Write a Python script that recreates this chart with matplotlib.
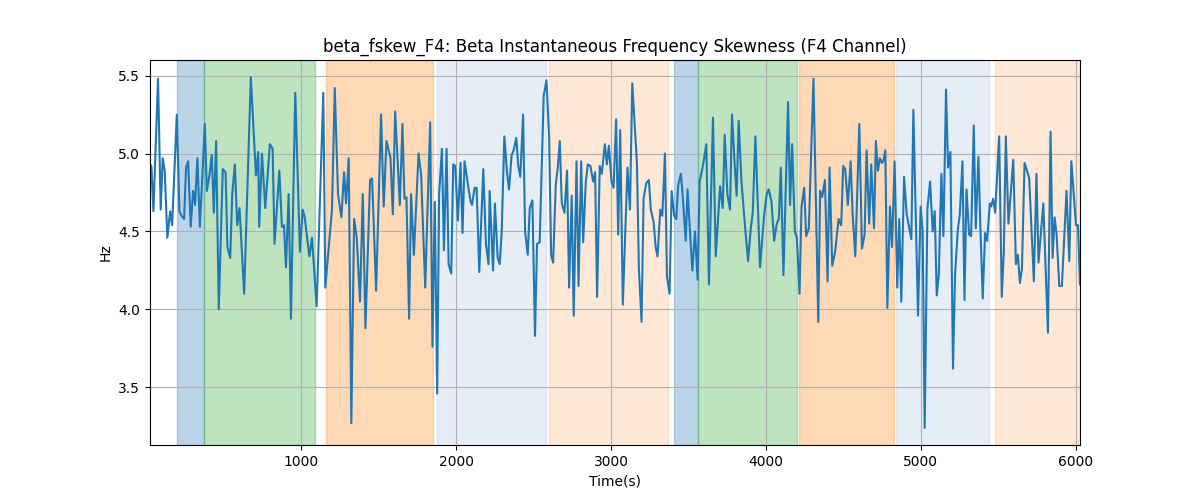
import numpy as np
import matplotlib
matplotlib.use("Agg")
import matplotlib.pyplot as plt

# time stamps (s) and skewness values
time_s = [
    23, 32, 45, 75, 92, 105, 118, 135, 153, 166, 196, 213, 226, 243, 256, 269, 286, 301, 314, 329,
    345, 377, 390, 407, 422, 435, 450, 467, 493, 511, 523, 541, 554, 571, 586, 601, 631, 674, 707, 722,
    728, 746, 767, 797, 815, 827, 858, 875, 888, 901, 918, 933, 961, 991, 1009, 1022, 1052, 1069, 1099, 1142,
    1155, 1198, 1216, 1237, 1259, 1276, 1289, 1306, 1323, 1341, 1358, 1379, 1397, 1414, 1444, 1457,
    1483, 1515, 1532, 1550, 1576, 1591, 1606, 1636, 1653, 1666, 1679, 1696, 1709, 1727, 1757, 1774, 1800, 1832,
    1847, 1862, 1877, 1890, 1908, 1921, 1938, 1951, 1968, 1981, 1994, 2011, 2028, 2041, 2054, 2076, 2093, 2102,
    2119, 2132, 2149, 2175, 2192, 2209,
    2216, 2238, 2250, 2268, 2281, 2294, 2311, 2328, 2341, 2358, 2371, 2388, 2401, 2414, 2432, 2445, 2462, 2475,
    2492, 2509, 2522, 2539, 2565, 2583, 2600, 2613, 2626, 2643, 2656, 2669, 2682, 2699, 2716, 2729, 2746, 2759,
    2777, 2790, 2807, 2820, 2837, 2850, 2867, 2884, 2897, 2910, 2927, 2940,
    2960, 2973, 2986, 3003, 3016, 3033, 3046, 3059, 3076, 3106, 3122, 3137, 3167, 3180, 3197, 3210, 3227, 3244,
    3257, 3275, 3288, 3300, 3318, 3331, 3348, 3361, 3378, 3391, 3408, 3421, 3434, 3451, 3464, 3482, 3494, 3512,
    3525, 3542, 3559, 3572, 3585, 3598, 3615, 3632, 3658, 3676,
    3704, 3721, 3734, 3751, 3768, 3781, 3798, 3811, 3824, 3842, 3867, 3885, 3902, 3915, 3932, 3962, 3988, 4005,
    4018, 4036, 4053, 4070, 4083, 4096, 4113, 4143, 4156, 4169, 4187, 4200, 4217, 4230, 4247, 4260, 4277, 4307,
    4338, 4350, 4363, 4381, 4398, 4411, 4428,
    4447, 4469, 4486, 4499, 4512, 4529, 4547, 4560, 4577, 4603, 4620, 4637, 4650, 4667, 4680, 4698, 4710, 4723,
    4736, 4749, 4758, 4771, 4784, 4801, 4814, 4831, 4848, 4861, 4874, 4892, 4909, 4922, 4939, 4952, 4982, 4999,
    5012, 5025, 5043, 5060, 5077, 5090, 5103, 5116, 5133, 5146, 5163, 5176,
    5191, 5208, 5221, 5239, 5252, 5269, 5282, 5295, 5312, 5325, 5342, 5355, 5372, 5385, 5400, 5415, 5428, 5446,
    5454, 5467, 5480, 5506, 5523, 5536, 5549, 5566, 5597, 5614, 5627, 5640, 5653, 5670, 5683, 5700, 5730, 5747,
    5760, 5791, 5821, 5838, 5851, 5864, 5877, 5894, 5911, 5941, 5959, 5972, 6002, 6015, 6028,
]
skew_hz = [
    4.93, 4.92, 4.63, 5.48, 4.64, 4.97, 4.89, 4.46, 4.63, 4.54, 5.25, 4.63, 4.60, 4.58, 4.91, 4.95, 4.53, 4.76, 4.67, 4.97,
    4.53, 5.19, 4.76, 4.86, 4.99, 4.62, 5.08, 4.00, 4.90, 4.88, 4.40, 4.33, 4.74, 4.93, 4.54, 4.65, 4.10, 5.49, 4.86, 5.01,
    4.53, 5.00, 4.65, 5.06, 5.03, 4.42, 4.89, 4.53, 4.54, 4.27, 4.74, 3.94, 5.39, 4.37, 4.64, 4.59, 4.34, 4.46, 4.02, 5.39,
    4.14, 4.64, 5.42, 4.74, 4.59, 4.88, 4.68, 4.97, 3.27, 4.58, 4.46, 4.05, 4.74, 3.88, 4.83, 4.84,
    4.12, 5.25, 4.66, 5.08, 4.97, 4.61, 5.27, 4.67, 5.19, 4.71, 4.72, 3.94, 4.74, 4.35, 5.00, 4.86, 4.14, 5.20,
    3.76, 4.69, 3.46, 4.74, 5.03, 4.38, 5.03, 4.29, 4.23, 4.93, 4.92, 4.57, 4.94, 4.49, 4.95, 4.80, 4.69, 4.67,
    4.78, 4.78, 4.24, 4.90, 4.42, 4.29,
    4.76, 4.25, 4.68, 4.33, 4.29, 4.50, 5.11, 4.88, 4.77, 4.99, 5.02, 5.10, 4.92, 4.85, 5.25, 4.50, 4.35, 4.65,
    4.70, 3.83, 4.42, 4.43, 5.37, 5.47, 5.11, 4.35, 4.30, 4.80, 4.91, 5.08, 4.68, 4.62, 4.89, 4.14, 4.73, 3.96,
    4.95, 4.15, 4.95, 4.43, 4.82, 4.93, 4.92, 4.82, 4.88, 4.08, 4.92, 4.87,
    5.06, 4.93, 5.05, 4.82, 4.78, 5.22, 4.48, 5.15, 4.03, 4.91, 4.64, 5.45, 4.94, 4.25, 3.92, 4.71, 4.81, 4.83,
    4.64, 4.56, 4.40, 4.34, 4.64, 4.60, 5.00, 4.21, 4.10, 4.76, 4.60, 4.58, 4.80, 4.87, 4.71, 4.44, 4.77, 4.46,
    4.25, 4.50, 4.19, 4.82, 4.88, 4.95, 5.06, 4.16, 5.23, 4.34,
    4.79, 4.65, 5.12, 4.74, 4.64, 5.25, 4.93, 4.73, 5.21, 4.82, 4.51, 4.31, 4.52, 4.62, 5.11, 4.27, 4.60, 4.74,
    4.77, 4.69, 4.44, 4.55, 4.58, 4.91, 4.22, 5.33, 4.67, 5.06, 4.50, 4.46, 4.10, 4.66, 4.78, 4.47, 4.52, 5.48,
    3.92, 4.76, 4.72, 4.83, 4.18, 4.91, 4.28,
    4.37, 4.58, 4.54, 4.92, 4.90, 4.67, 4.95, 4.61, 4.34, 5.19, 4.39, 4.48, 5.02, 4.55, 4.93, 4.52, 5.08, 4.89,
    4.97, 4.94, 4.95, 5.02, 4.01, 4.66, 4.40, 4.95, 4.14, 4.58, 4.05, 4.85, 4.61, 4.54, 4.45, 5.28, 3.96, 4.66,
    4.50, 3.24, 4.65, 4.82, 4.50, 4.63, 4.09, 4.22, 4.87, 4.47, 5.41, 4.91,
    5.01, 3.62, 4.22, 4.51, 4.61, 4.95, 4.06, 4.77, 4.48, 4.47, 5.18, 4.52, 4.98, 4.52, 4.07, 4.49, 4.44, 4.68,
    4.66, 4.71, 4.62, 5.11, 4.08, 4.37, 5.11, 4.55, 4.96, 4.29, 4.35, 4.17, 4.26, 4.94, 4.90, 4.84, 4.18, 4.87,
    4.30, 4.68, 3.85, 5.14, 4.33, 4.59, 4.48, 4.15, 4.15, 4.76, 4.31, 4.95, 4.54, 4.54, 4.16,
]

# shaded stages: start, end, colour, alpha
span_start = [198, 372, 1161, 1873, 2598, 3407, 3562, 4215, 4843, 5477]
span_end = [372, 1090, 1853, 2578, 3368, 3562, 4202, 4830, 5438, 6028]
span_color = ['tab:blue', 'tab:green', 'tab:orange', 'lightsteelblue', 'tab:orange',
              'tab:blue', 'tab:green', 'tab:orange', 'lightsteelblue', 'tab:orange']
span_alpha = [0.3, 0.3, 0.3, 0.3, 0.17, 0.3, 0.3, 0.3, 0.3, 0.17]

fig, ax = plt.subplots(figsize=(12, 5))

for s, e, c, a in zip(span_start, span_end, span_color, span_alpha):
    ax.axvspan(s, e, color=c, alpha=a)

ax.plot(time_s, skew_hz, color='tab:blue', linewidth=1.5)

ax.set_xlim(time_s[0], time_s[-1])
ax.set_ylim(3.13, 5.6)
ax.grid(True)
ax.set_xlabel('Time(s)')
ax.set_ylabel('Hz')
ax.set_title('beta_fskew_F4: Beta Instantaneous Frequency Skewness (F4 Channel)')

plt.savefig('out.png', dpi=100)
